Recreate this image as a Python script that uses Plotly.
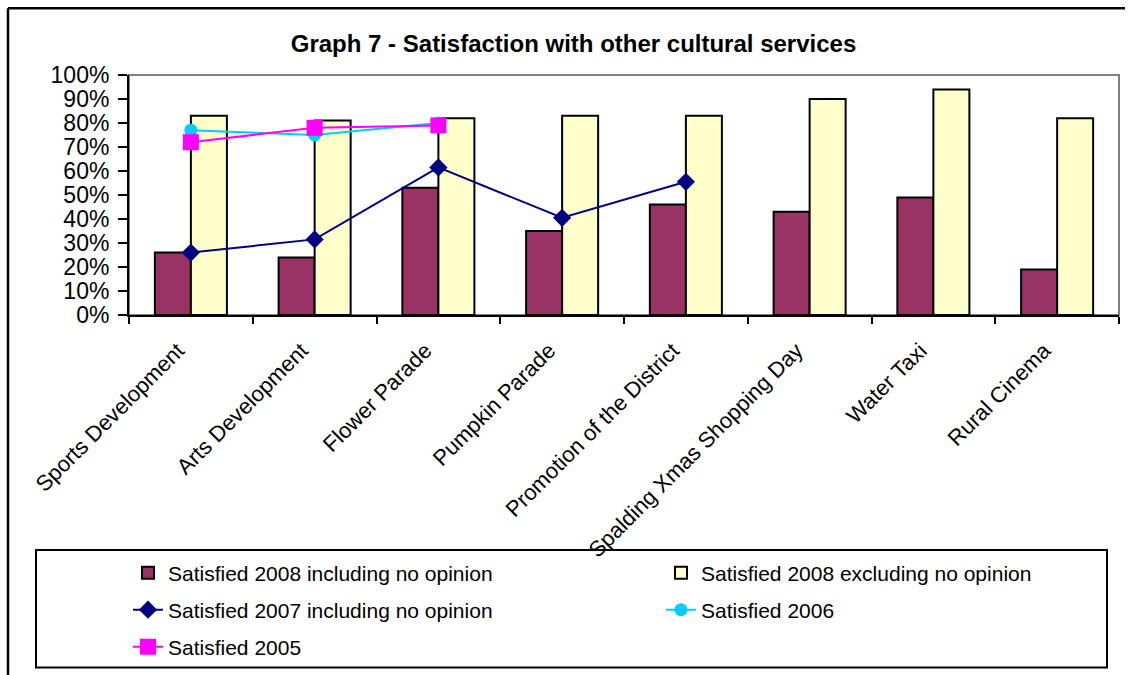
import plotly.graph_objects as go

categories = ["Sports Development", "Arts Development", "Flower Parade", "Pumpkin Parade",
              "Promotion of the District", "Spalding Xmas Shopping Day", "Water Taxi", "Rural Cinema"]
sat2008_incl = [0.26, 0.24, 0.53, 0.35, 0.46, 0.43, 0.49, 0.19]
sat2008_excl = [0.83, 0.81, 0.82, 0.83, 0.83, 0.90, 0.94, 0.82]
sat2007_incl = [0.26, 0.315, 0.615, 0.405, 0.555, None, None, None]
sat2006 = [0.77, 0.75, 0.80, None, None, None, None, None]
sat2005 = [0.72, 0.78, 0.79, None, None, None, None, None]

W, H = 1128, 675
L, R, T, B = 129, 1119, 75, 316
PW, PH = R - L, B - T

def px(x):
    return (x - L) / PW

def py(y):
    return (B - y) / PH

FONT = "Liberation Sans, Arial, sans-serif"

fig = go.Figure()
fig.add_trace(go.Bar(x=categories, y=sat2008_incl, name="Satisfied 2008 including no opinion",
                     marker=dict(color="#993366", line=dict(color="black", width=2)),
                     legend="legend", showlegend=True))
fig.add_trace(go.Bar(x=categories, y=sat2008_excl, name="Satisfied 2008 excluding no opinion",
                     marker=dict(color="#FFFFCC", line=dict(color="black", width=2)),
                     legend="legend2", showlegend=True))
fig.add_trace(go.Scatter(x=categories, y=sat2007_incl, name="Satisfied 2007 including no opinion",
                         mode="lines+markers", line=dict(color="#000080", width=2),
                         marker=dict(symbol="diamond", size=14, color="#000080"),
                         legend="legend3", showlegend=True))
fig.add_trace(go.Scatter(x=categories, y=sat2006, name="Satisfied 2006",
                         mode="lines+markers", line=dict(color="#00CCFF", width=2),
                         marker=dict(symbol="circle", size=13, color="#00CCFF"),
                         legend="legend4", showlegend=True))
fig.add_trace(go.Scatter(x=categories, y=sat2005, name="Satisfied 2005",
                         mode="lines+markers", line=dict(color="#FF00FF", width=2),
                         marker=dict(symbol="square", size=16, color="#FF00FF"),
                         legend="legend5", showlegend=True))

leg_common = dict(bgcolor="rgba(0,0,0,0)", borderwidth=0, font=dict(family=FONT, size=21, color="black"),
                  xanchor="left", yanchor="middle", orientation="h", visible=True)
col1, col2 = px(128), px(661)
rows = [py(573), py(610), py(647)]

fig.update_layout(
    width=W, height=H,
    margin=dict(l=L, r=W - R, t=T, b=H - B),
    paper_bgcolor="white", plot_bgcolor="white",
    font=dict(family=FONT, color="black"),
    showlegend=True,
    barmode="group", bargap=0.418, bargroupgap=0,
    title=dict(text="<b>Graph 7 - Satisfaction with other cultural services</b>",
               x=px(573.5), xref="paper", xanchor="center",
               y=1 - 44 / H, yref="container", yanchor="middle",
               font=dict(family=FONT, size=24, color="black")),
    xaxis=dict(type="category", showgrid=False, showline=True, linecolor="black", linewidth=2,
               ticks="outside", tickson="boundaries", ticklen=7, tickwidth=2, tickcolor="black",
               tickangle=-45, tickfont=dict(family=FONT, size=22, color="black"),
               ticklabelstandoff=12, ticklabelshift=-13, range=[-0.5, 7.5]),
    xaxis2=dict(overlaying="x", anchor="y", range=[-0.5, 7.5], showgrid=False, showline=False,
                tickvals=[-0.5, 0.5, 1.5, 2.5, 3.5, 4.5, 5.5, 6.5, 7.5], ticks="inside", ticklen=7,
                tickwidth=2, tickcolor="black", showticklabels=False, zeroline=False),
    yaxis=dict(range=[0, 1], dtick=0.1, tickformat=".0%", showgrid=False, zeroline=False,
               showline=True, linecolor="black", linewidth=2, ticks="outside", ticklen=9,
               tickwidth=2, tickcolor="black", tickfont=dict(family=FONT, size=23, color="black"),
               ticklabelstandoff=4),
    yaxis2=dict(overlaying="y", anchor="x", side="left", range=[0, 1], dtick=0.1, showgrid=False,
                zeroline=False, showline=False, ticks="inside", ticklen=8, tickwidth=2,
                tickcolor="black", showticklabels=False),
    legend=dict(x=col1, y=rows[0], **leg_common),
    legend2=dict(x=col2, y=rows[0], **leg_common),
    legend3=dict(x=col1, y=rows[1], **leg_common),
    legend4=dict(x=col2, y=rows[1], **leg_common),
    legend5=dict(x=col1, y=rows[2], **leg_common),
    shapes=[
        # plot area border (grey top/right)
        dict(type="rect", xref="paper", yref="paper", x0=0, y0=0, x1=1, y1=1,
             line=dict(color="#808080", width=2), layer="below"),
        # outer chart border (left and top edges visible)
        dict(type="line", xref="paper", yref="paper", x0=px(8), y0=py(700), x1=px(8), y1=py(8),
             line=dict(color="black", width=2.5)),
        dict(type="line", xref="paper", yref="paper", x0=px(8), y0=py(8), x1=px(1125), y1=py(8),
             line=dict(color="black", width=2.5)),
        # legend box
        dict(type="rect", xref="paper", yref="paper", x0=px(36), y0=py(670), x1=px(1107), y1=py(552),
             line=dict(color="black", width=2)),
    ],
)

fig.write_html("out.html", config={"displayModeBar": False})
